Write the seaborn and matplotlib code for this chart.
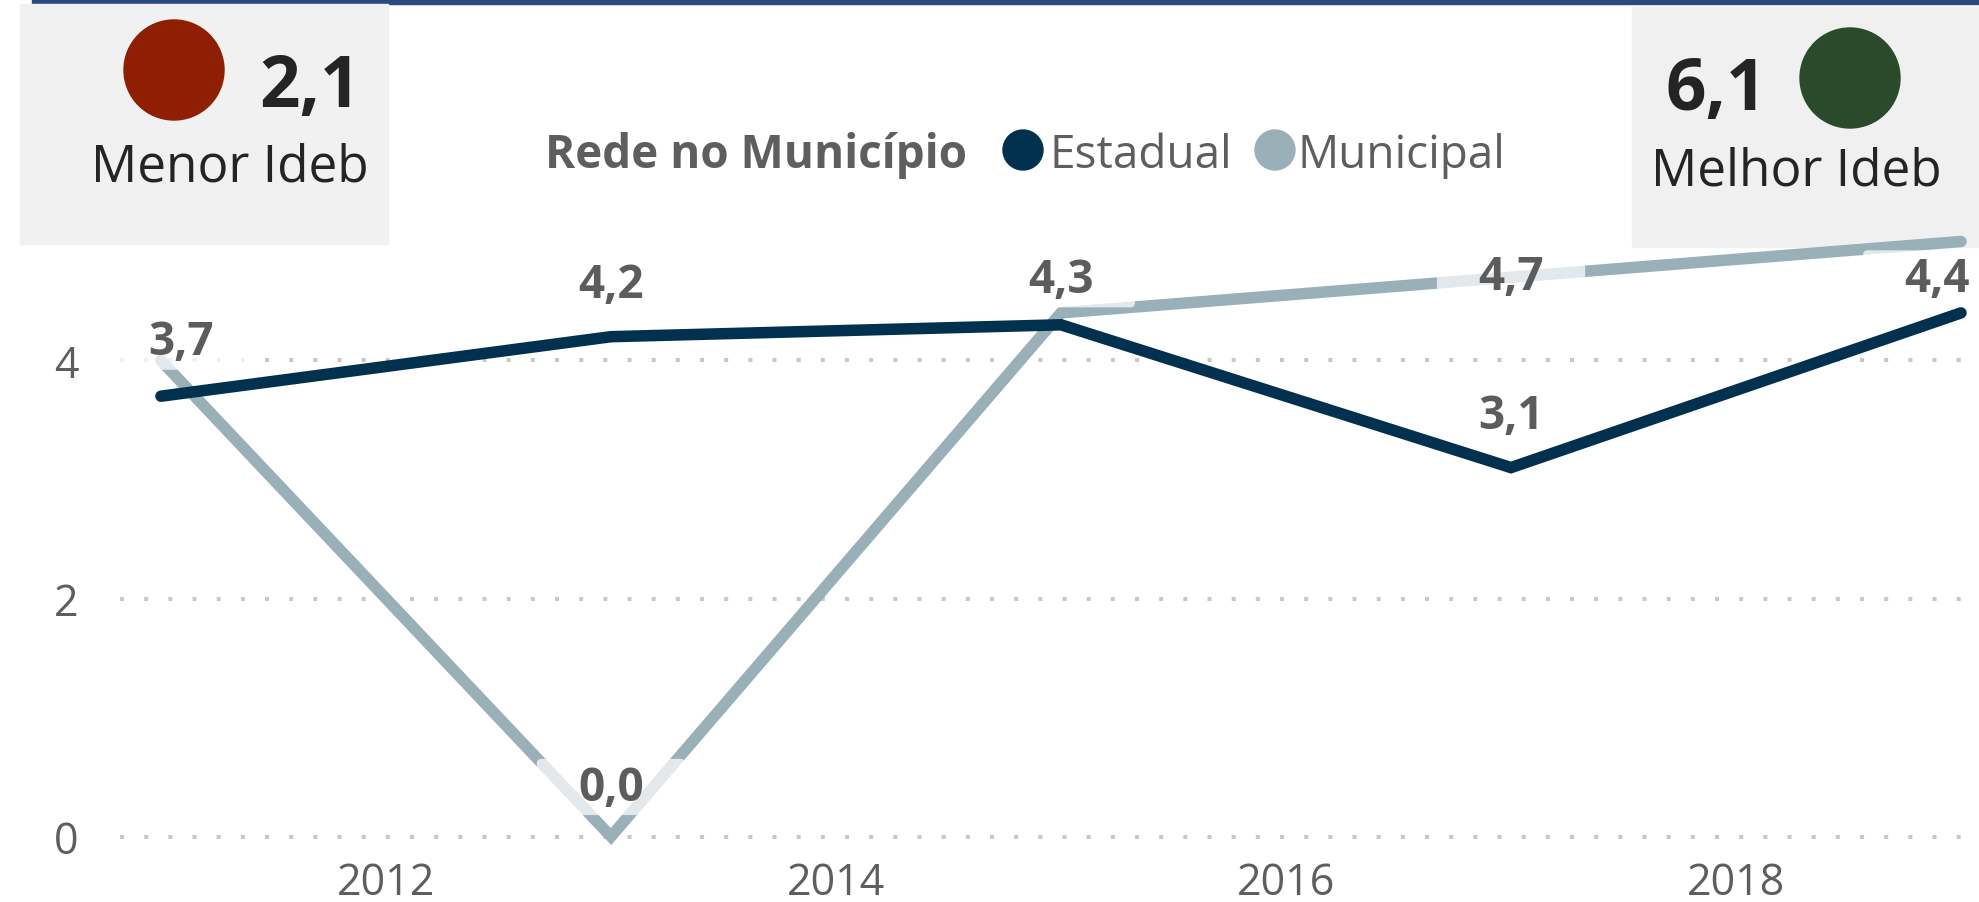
import matplotlib.pyplot as plt
from matplotlib.patches import BoxStyle, Circle, Rectangle
import pandas as pd
import seaborn as sns

anos = [2011, 2013, 2015, 2017, 2019]
ideb_estadual = [3.7, 4.2, 4.3, 3.1, 4.4]
ideb_municipal = [4.0, 0.0, 4.4, 4.7, 5.0]
redes = ['Estadual', 'Municipal']
# rotulos que aparecem no grafico (None = rotulo escondido pelo Power BI)
rotulos_estadual = ['3,7', '4,2', '4,3', '3,1', '4,4']
rotulos_municipal = [None, '0,0', None, '4,7', None]
anos_eixo = [2012, 2014, 2016, 2018]
ideb_eixo = [0, 2, 4]
menor_ideb = '2,1'
melhor_ideb = '6,1'

cores = {'Estadual': '#01314F', 'Municipal': '#9AB0B9'}
cinza = '#605E5C'
# deslocamento (dx, dy) dos rotulos em pixels, a partir do ponto
desloc_estadual = [(20, 42), (0, 40), (0, 33), (0, 40), (-24, 22)]
desloc_municipal = [None, (0, 37), None, (0, -12), None]

W, H = 1979, 903
sns.set_theme(style='white')
plt.rcParams['font.family'] = ['Open Sans', 'DejaVu Sans']

fig = plt.figure(figsize=(W / 100, H / 100), dpi=100)
fig.patch.set_facecolor('white')


def px(x, y):
    # pixel com origem no topo -> polegadas da figura
    return x / 100, (H - y) / 100


# caixa do rotulo: mais larga do que alta, como no Power BI
rodada = BoxStyle.Round(pad=0.1)


def caixa_rotulo(x0, y0, width, height, mutation_size):
    extra = 0.8 * mutation_size
    return rodada(x0 - extra, y0, width + 2 * extra, height, mutation_size)


ax = fig.add_axes([120 / W, (H - 855) / H, (W - 120) / W, 630 / H])
ax.set_facecolor('none')

df = pd.DataFrame({
    'Ano': anos * 2,
    'Ideb': ideb_estadual + ideb_municipal,
    'Rede': [redes[0]] * len(anos) + [redes[1]] * len(anos),
})
sns.lineplot(data=df, x='Ano', y='Ideb', hue='Rede', palette=cores,
             linewidth=8.3, errorbar=None, legend=False, ax=ax)
for line, z in zip(ax.lines, [4, 2]):
    line.set_solid_capstyle('round')
    line.set_solid_joinstyle('miter')
    line.set_zorder(z)

# rotulos de dados com fundo branco semi-transparente
caixa = dict(boxstyle=caixa_rotulo, fc='white', ec='none', alpha=0.72)
series = [(rotulos_estadual, ideb_estadual, desloc_estadual),
          (rotulos_municipal, ideb_municipal, desloc_municipal)]
for rotulos, valores, desl in series:
    for ano, v, r, d in zip(anos, valores, rotulos, desl):
        if r is None:
            continue
        ax.annotate(r, xy=(ano, v), xytext=d, textcoords='offset pixels',
                    ha='center', va='baseline', fontsize=33, fontweight='bold',
                    color='#5C5C5C', bbox=caixa, zorder=3)

ax.set_xlim(2010.818, 2019.08)
ax.set_ylim(-0.147, 5.147)
ax.set_xticks(anos_eixo)
ax.set_xticklabels([str(a) for a in anos_eixo])
ax.set_yticks(ideb_eixo)
ax.set_yticklabels([str(v) for v in ideb_eixo])
ax.tick_params(axis='x', length=0, pad=5, labelsize=31, labelcolor=cinza)
ax.tick_params(axis='y', length=0, pad=30, labelsize=31, labelcolor=cinza)
ax.set_xlabel('')
ax.set_ylabel('')
ax.grid(False)
ax.yaxis.grid(True, color='#C8C8C8', linestyle=(0, (1, 5)), linewidth=2.9)
for s in ax.spines.values():
    s.set_visible(False)

# legenda
fig.text(545 / W, (H - 168) / H, 'Rede no Município', fontsize=33, fontweight='bold',
         color=cinza, ha='left', va='baseline')
for nome, cx, tx in [('Estadual', 1023, 1049), ('Municipal', 1275, 1297)]:
    fig.add_artist(Circle(px(cx, 151), 0.20, color=cores[nome], transform=fig.dpi_scale_trans))
    fig.text(tx / W, (H - 168) / H, nome, fontsize=33, color=cinza, ha='left', va='baseline')

# faixa azul no topo
fig.add_artist(Rectangle(px(32, 5), (W - 32) / 100, 0.05, color='#2B4A7E',
                         transform=fig.dpi_scale_trans, zorder=-1))

# cartoes de menor e melhor ideb
fig.add_artist(Rectangle(px(20, 245), 3.68, 2.40, color='#F1F1F1',
                         transform=fig.dpi_scale_trans, zorder=-1))
fig.add_artist(Rectangle(px(1632, 248), 3.47, 2.40, color='#F0F0F0',
                         transform=fig.dpi_scale_trans, zorder=-1))
fig.add_artist(Circle(px(174, 71), 0.50, color='#8E1F02', transform=fig.dpi_scale_trans))
fig.add_artist(Circle(px(1850, 79), 0.50, color='#2B4A2B', transform=fig.dpi_scale_trans))
fig.text(310 / W, (H - 107) / H, menor_ideb, fontsize=51, fontweight='bold',
         color='#252423', ha='center', va='baseline')
fig.text(230 / W, (H - 182) / H, 'Menor Ideb', fontsize=37,
         color='#252423', ha='center', va='baseline')
fig.text(1716 / W, (H - 110) / H, melhor_ideb, fontsize=51, fontweight='bold',
         color='#252423', ha='center', va='baseline')
fig.text(1796 / W, (H - 185) / H, 'Melhor Ideb', fontsize=37,
         color='#252423', ha='center', va='baseline')

fig.savefig('out.png', dpi=100, facecolor='white')
